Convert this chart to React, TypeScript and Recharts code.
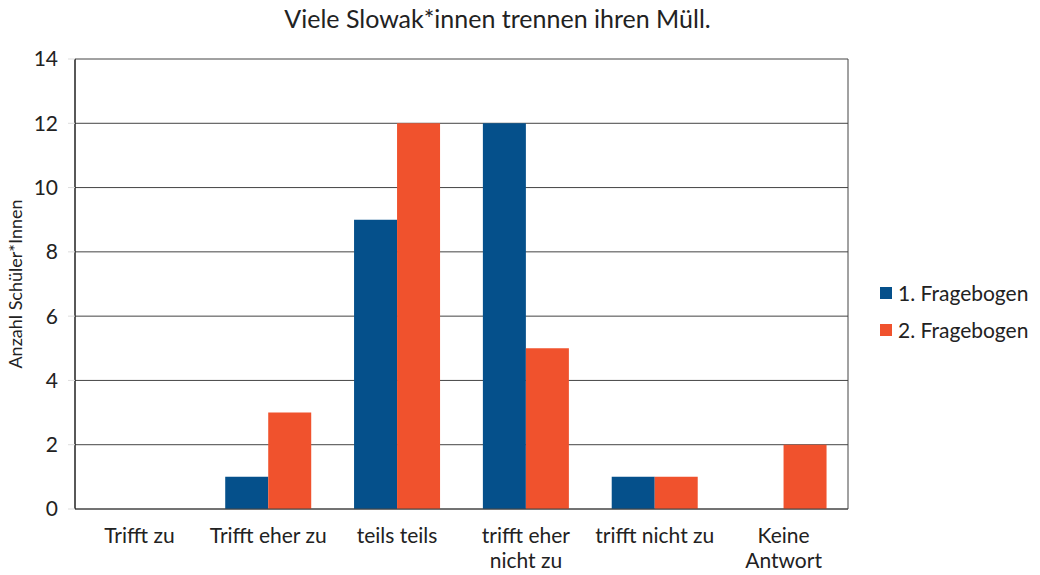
import React from "react";
import { BarChart, Bar, CartesianGrid, XAxis, YAxis } from "recharts";

const categories = [
  "Trifft zu",
  "Trifft eher zu",
  "teils teils",
  "trifft eher\nnicht zu",
  "trifft nicht zu",
  "Keine\nAntwort",
];
const fragebogen1 = [0, 1, 9, 12, 1, 0];
const fragebogen2 = [0, 3, 12, 5, 1, 2];
const yTicks = [0, 2, 4, 6, 8, 10, 12, 14];

const BLUE = "#05508b";
const ORANGE = "#f0522d";
const FONT = "Lato, 'Open Sans', sans-serif";

const data = categories.map((c, i) => ({
  name: c,
  f1: fragebogen1[i],
  f2: fragebogen2[i],
}));

function CategoryTick(props: any) {
  const { x, y, payload } = props;
  const lines = String(payload.value).split("\n");
  return (
    <text
      x={x}
      y={y + 20}
      textAnchor="middle"
      fill="#222"
      fontSize={21}
      fontFamily={FONT}
    >
      {lines.map((l, i) => (
        <tspan key={i} x={x} dy={i === 0 ? 6 : 25}>
          {l}
        </tspan>
      ))}
    </text>
  );
}

const legendItems = [
  { label: "1. Fragebogen", color: BLUE },
  { label: "2. Fragebogen", color: ORANGE },
];

export default function App() {
  return (
    <div
      style={{
        position: "absolute",
        left: 0,
        top: 0,
        width: 1040,
        height: 575,
        background: "#fff",
      }}
    >
      <div
        style={{
          position: "absolute",
          top: 3,
          left: 0,
          width: 995,
          textAlign: "center",
          fontFamily: FONT,
          fontSize: 25,
          color: "#222",
        }}
      >
        Viele Slowak*innen trennen ihren Müll.
      </div>
      <div
        style={{
          position: "absolute",
          left: 880,
          top: 274,
          fontFamily: FONT,
          fontSize: 21,
          color: "#222",
        }}
      >
        {legendItems.map((it) => (
          <div
            key={it.label}
            style={{ display: "flex", alignItems: "center", height: 37 }}
          >
            <span
              style={{
                width: 12,
                height: 12,
                background: it.color,
                marginRight: 6,
                display: "inline-block",
              }}
            />
            {it.label}
          </div>
        ))}
      </div>
      <BarChart
        width={1040}
        height={575}
        data={data}
        margin={{ top: 59, right: 192, left: 0, bottom: 0 }}
        barCategoryGap="16.6%"
        barGap={0}
        style={{ position: "absolute", left: 0, top: 0 }}
      >
        <CartesianGrid
          stroke="#444"
          verticalCoordinatesGenerator={({ offset }: any) => [
            offset.left,
            offset.left + offset.width,
          ]}
        />
        <XAxis
          dataKey="name"
          height={66}
          tick={<CategoryTick />}
          tickLine={false}
          axisLine={{ stroke: "#444" }}
          interval={0}
        />
        <YAxis
          width={75}
          domain={[0, 14]}
          ticks={yTicks}
          interval={0}
          tickSize={7}
          tickMargin={10}
          tickLine={{ stroke: "#ddd" }}
          axisLine={{ stroke: "#111" }}
          tick={{ fill: "#222", fontSize: 21, fontFamily: FONT }}
          label={{
            value: "Anzahl Schüler*Innen",
            angle: -90,
            position: "insideLeft",
            offset: 16,
            style: {
              textAnchor: "middle",
              fill: "#222",
              fontSize: 18,
              fontFamily: FONT,
            },
          }}
        />
        <Bar dataKey="f1" fill={BLUE} isAnimationActive={false} />
        <Bar dataKey="f2" fill={ORANGE} isAnimationActive={false} />
      </BarChart>
    </div>
  );
}
